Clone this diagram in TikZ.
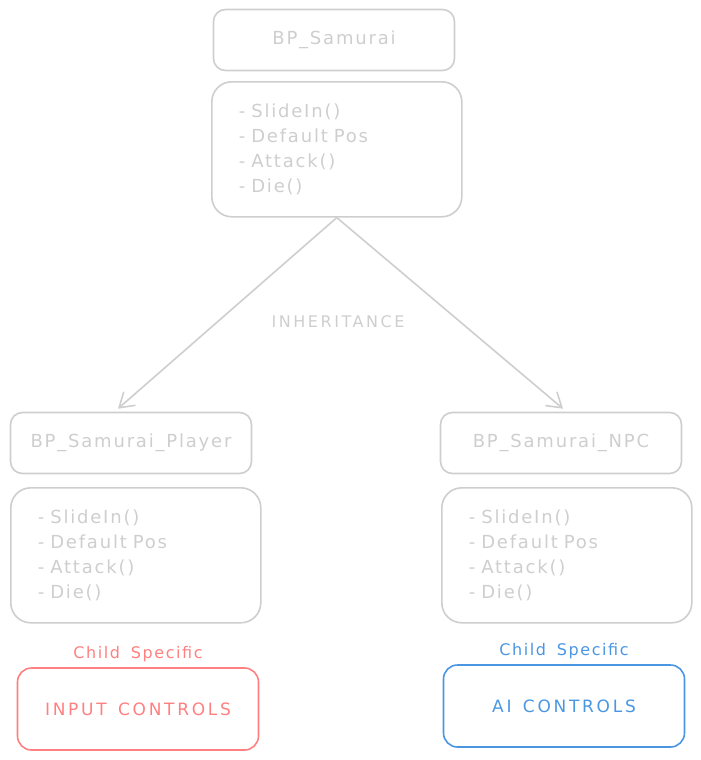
\documentclass[tikz,border=0pt]{standalone}
\usepackage{fontspec}
\setmainfont{DejaVu Sans}
\newfontfamily\sketchfont[LetterSpace=10,WordSpace=1.6]{DejaVu Sans}
\newfontfamily\widefont[LetterSpace=16,WordSpace=1.4]{DejaVu Sans}
\usetikzlibrary{arrows.meta,positioning}
\definecolor{sketchgray}{RGB}{206,206,206}
\definecolor{ctlred}{RGB}{255,128,128}
\definecolor{ctlblue}{RGB}{74,150,226}

\begin{document}
\begin{tikzpicture}[x=1pt,y=-1pt,node distance=10pt,
 cls/.style={draw=sketchgray,line width=1.6pt,rounded corners=12pt,minimum width=241pt,minimum height=61pt,text=sketchgray,font=\sketchfont\fontsize{18}{20}\selectfont},
 meth/.style={draw=sketchgray,line width=1.6pt,rounded corners=20pt,minimum width=250pt,minimum height=135pt,inner xsep=27pt,text width=196pt,align=left,text=sketchgray,font=\sketchfont\fontsize{18}{25}\selectfont},
 ctl/.style={line width=1.6pt,rounded corners=14pt,minimum width=241pt,minimum height=82pt,font=\widefont\fontsize{17}{19}\selectfont},
 a/.style={-{Straight Barb[length=14pt,width=18pt]},draw=sketchgray,line width=1.6pt}]
\useasboundingbox (0,0) rectangle (701,760);
% parent class
\node[cls] (base) at (334,40) {BP\_Samurai};
\node[meth,anchor=north west] (basefn) at (211,81) {- SlideIn()\\- Default Pos\\- Attack()\\- Die()};
% child classes
\node[cls] (player) at (131,443) {BP\_Samurai\_Player};
\node[meth,anchor=north west] (playerfn) at (10,487) {- SlideIn()\\- Default Pos\\- Attack()\\- Die()};
\node[cls] (npc) at (561,443) {BP\_Samurai\_NPC};
\node[meth,anchor=north west] (npcfn) at (441,487) {- SlideIn()\\- Default Pos\\- Attack()\\- Die()};
\draw[a] (basefn.south) -- ([xshift=-13pt,yshift=3pt]player.north);
\draw[a] (basefn.south) -- ([xshift=2pt,yshift=3pt]npc.north);
\node[text=sketchgray,font=\widefont\fontsize{16}{18}\selectfont] (inh) at (338,322) {INHERITANCE};
% child specific parts
\node[ctl,draw=ctlred,text=ctlred] (inctl) at (138,709) {INPUT CONTROLS};
\node[ctl,draw=ctlblue,text=ctlblue] (aictl) at (564,706) {AI CONTROLS};
\node[above=2pt of inctl,text=ctlred,font=\sketchfont\fontsize{16}{18}\selectfont] (redlbl) {Child Specific};
\node[above=2pt of aictl,text=ctlblue,font=\sketchfont\fontsize{16}{18}\selectfont] (bluelbl) {Child Specific};
\end{tikzpicture}
\end{document}
